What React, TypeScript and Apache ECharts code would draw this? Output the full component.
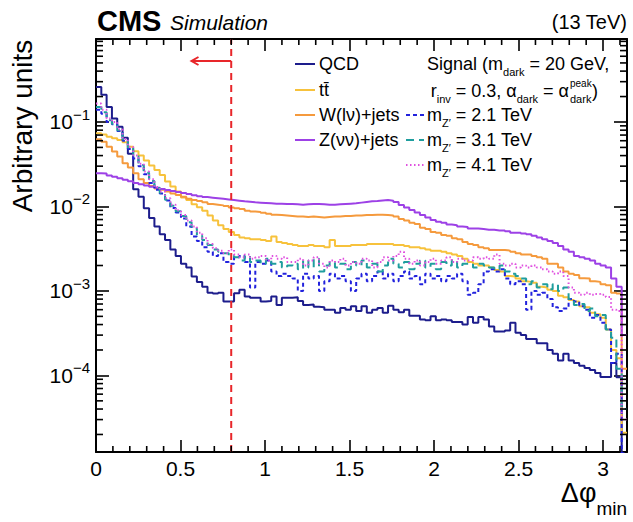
import React, { useEffect, useRef } from 'react';
import * as echarts from 'echarts';

const FONT = '"Liberation Sans", Arial, Helvetica, sans-serif';
const N_BINS = 100;
const X_MAX = Math.PI;
const Y_MIN = 1.24e-5;
const Y_MAX = 0.96;
const CUT = 0.8;
const ARROW_END = 0.565;
const ARROW_Y = 0.527;

const qcd = [
  0.26, 0.21, 0.15, 0.11, 0.088, 0.065, 0.042, 0.016, 0.013, 0.0095,
  0.0073, 0.0058, 0.0047, 0.004, 0.0031, 0.0026, 0.0021, 0.0019, 0.00148, 0.00128,
  0.00112, 0.00095, 0.00093, 0.00095, 0.00075, 0.00075, 0.00094, 0.00103, 0.00086, 0.00083,
  0.00083, 0.00075, 0.00076, 0.00086, 0.00068, 0.00083, 0.00083, 0.00084, 0.00076, 0.00068,
  0.00069, 0.00065, 0.00064, 0.0006, 0.0006, 0.00055, 0.00063, 0.0006, 0.00066, 0.00058,
  0.00066, 0.00055, 0.0006, 0.00063, 0.00055, 0.00067, 0.0006, 0.00056, 0.0006, 0.00051,
  0.00051, 0.00046, 0.00045, 0.0005, 0.00045, 0.00046, 0.00045, 0.00043, 0.00043, 0.0004,
  0.00049, 0.00042, 0.00049, 0.00046, 0.00038, 0.00033, 0.00033, 0.00034, 0.00042, 0.00032,
  0.0003, 0.00027, 0.00027, 0.00024, 0.00024, 0.0002, 0.00018, 0.00015, 0.00018, 0.00015,
  0.00014, 0.00013, 0.000122, 0.000116, 0.000107, 0.000096, 0.000096, 0.00014, 0.000095, 0.000001,
];

const ttbar = [
  0.0735, 0.071, 0.067, 0.064, 0.061, 0.0575, 0.051, 0.045, 0.04, 0.035,
  0.0305, 0.027, 0.0235, 0.0198, 0.0172, 0.015, 0.0128, 0.0119, 0.0106, 0.0098,
  0.0089, 0.0078, 0.0068, 0.006, 0.0054, 0.005, 0.0046, 0.0043, 0.0042, 0.0041,
  0.0041, 0.004, 0.0039, 0.0044, 0.0038, 0.0037, 0.0036, 0.0035, 0.0034, 0.0034,
  0.0035, 0.0034, 0.0034, 0.0033, 0.004, 0.0034, 0.0034, 0.0034, 0.0035, 0.0035,
  0.0035, 0.0036, 0.0036, 0.0036, 0.0036, 0.0036, 0.0035, 0.0035, 0.0034, 0.0033,
  0.0033, 0.0032, 0.0031, 0.003, 0.003, 0.0029, 0.0028, 0.0027, 0.0026, 0.0024,
  0.0022, 0.0021, 0.002, 0.002, 0.0019, 0.00177, 0.0017, 0.0015, 0.00148, 0.0014,
  0.0013, 0.00128, 0.00125, 0.00112, 0.0011, 0.00103, 0.001, 0.00088, 0.00084, 0.00078,
  0.00075, 0.00066, 0.00064, 0.00055, 0.00053, 0.00048, 0.00035, 0.0002, 0.00016, 0.000021,
];

const wjets = [
  0.0624, 0.0585, 0.051, 0.0446, 0.039, 0.0325, 0.029, 0.0247, 0.021, 0.019,
  0.0175, 0.0163, 0.0158, 0.015, 0.0142, 0.0137, 0.013, 0.0123, 0.0119, 0.0116,
  0.0112, 0.0107, 0.0105, 0.0103, 0.0101, 0.0097, 0.0095, 0.0093, 0.0089, 0.0087,
  0.0086, 0.0084, 0.0082, 0.008, 0.0079, 0.0078, 0.0077, 0.0076, 0.0076, 0.0075,
  0.0076, 0.0075, 0.0074, 0.0075, 0.0076, 0.0076, 0.0077, 0.0077, 0.0078, 0.0078,
  0.0079, 0.0079, 0.008, 0.008, 0.0079, 0.0078, 0.0076, 0.0071, 0.0068, 0.0064,
  0.0062, 0.0056, 0.0054, 0.005, 0.0049, 0.0046, 0.0045, 0.0042, 0.0041, 0.0038,
  0.0036, 0.0035, 0.0033, 0.0032, 0.00305, 0.00305, 0.00305, 0.003, 0.0029, 0.0028,
  0.0027, 0.0027, 0.0026, 0.0025, 0.0024, 0.0021, 0.0021, 0.0019, 0.0017, 0.0016,
  0.00154, 0.00141, 0.0014, 0.0013, 0.00128, 0.0012, 0.00117, 0.00095, 0.00093, 0.00012,
];

const zjets = [
  0.0247, 0.0245, 0.0232, 0.0225, 0.0215, 0.0207, 0.0199, 0.019, 0.0183, 0.0177,
  0.0171, 0.0166, 0.0161, 0.0157, 0.0152, 0.0148, 0.0144, 0.014, 0.0136, 0.0132,
  0.0129, 0.0127, 0.0125, 0.0123, 0.0121, 0.0119, 0.0117, 0.0115, 0.0114, 0.0112,
  0.0111, 0.011, 0.0109, 0.0108, 0.0108, 0.0107, 0.0107, 0.0106, 0.0105, 0.0106,
  0.0107, 0.0107, 0.0106, 0.0105, 0.0105, 0.0106, 0.0107, 0.0108, 0.0109, 0.0111,
  0.0113, 0.0115, 0.0116, 0.0118, 0.0119, 0.0117, 0.0113, 0.0104, 0.0097, 0.0091,
  0.0085, 0.0079, 0.0074, 0.0069, 0.0066, 0.0064, 0.0061, 0.006, 0.0058, 0.0057,
  0.0055, 0.0055, 0.0054, 0.0053, 0.0053, 0.0052, 0.0052, 0.0051, 0.0049, 0.0049,
  0.0048, 0.0047, 0.0045, 0.0043, 0.0041, 0.0039, 0.0037, 0.0034, 0.0031, 0.0029,
  0.0026, 0.0025, 0.0024, 0.0023, 0.0021, 0.002, 0.0019, 0.0014, 0.00112, 0.0003,
];

const sig21 = [
  0.14, 0.125, 0.1, 0.094, 0.078, 0.06, 0.048, 0.037, 0.03, 0.024,
  0.019, 0.0158, 0.0142, 0.0118, 0.0096, 0.0085, 0.0072, 0.0058, 0.0044, 0.0039,
  0.0033, 0.0029, 0.0026, 0.0028, 0.0022, 0.0021, 0.0025, 0.0026, 0.0022, 0.0011,
  0.0022, 0.0021, 0.0023, 0.0017, 0.0015, 0.0016, 0.0015, 0.0014, 0.001, 0.0016,
  0.0014, 0.0015, 0.001, 0.0013, 0.0016, 0.0014, 0.0015, 0.0013, 0.001, 0.0014,
  0.0016, 0.0013, 0.0015, 0.0017, 0.0014, 0.0016, 0.0013, 0.0015, 0.0017, 0.0014,
  0.0015, 0.0012, 0.0016, 0.0014, 0.0015, 0.0013, 0.0015, 0.0014, 0.0016, 0.0013,
  0.0009, 0.00095, 0.0012, 0.0017, 0.0018, 0.0017, 0.0018, 0.0014, 0.0012, 0.0013,
  0.0012, 0.0006, 0.001, 0.0009, 0.00095, 0.0008, 0.00064, 0.00058, 0.00062, 0.0008,
  0.00075, 0.00066, 0.0006, 0.00048, 0.00052, 0.00042, 0.00035, 0.00014, 0.00018, 0.000012,
];

const sig31 = [
  0.15, 0.13, 0.105, 0.095, 0.08, 0.062, 0.05, 0.04, 0.031, 0.025,
  0.02, 0.0165, 0.0145, 0.012, 0.0102, 0.0088, 0.0077, 0.0065, 0.0055, 0.0045,
  0.004, 0.0035, 0.0031, 0.0029, 0.0028, 0.0026, 0.0025, 0.0023, 0.0026, 0.0022,
  0.0023, 0.0021, 0.0024, 0.0021, 0.0022, 0.0019, 0.002, 0.0021, 0.0018, 0.0023,
  0.0019, 0.0024, 0.0017, 0.002, 0.0022, 0.0019, 0.0021, 0.0018, 0.0022, 0.002,
  0.0023, 0.0019, 0.0021, 0.0017, 0.002, 0.0024, 0.0021, 0.0019, 0.0022, 0.0018,
  0.0021, 0.0023, 0.0019, 0.0021, 0.0018, 0.0022, 0.002, 0.0023, 0.0019, 0.0021,
  0.0021, 0.0019, 0.0021, 0.002, 0.0019, 0.0018, 0.002, 0.0017, 0.0016, 0.0015,
  0.0014, 0.0012, 0.0013, 0.0011, 0.0012, 0.00105, 0.0012, 0.001, 0.0011, 0.0008,
  0.00068, 0.0007, 0.00058, 0.00062, 0.0005, 0.00052, 0.00035, 0.00028, 0.00012, 0.00004,
];

const sig41 = [
  0.165, 0.14, 0.11, 0.1, 0.082, 0.063, 0.051, 0.04, 0.032, 0.026,
  0.021, 0.017, 0.015, 0.0125, 0.0105, 0.009, 0.0079, 0.0068, 0.0058, 0.0049,
  0.0042, 0.0036, 0.0032, 0.003, 0.0028, 0.0031, 0.0027, 0.0025, 0.0027, 0.0024,
  0.0025, 0.0026, 0.0023, 0.0026, 0.0024, 0.0025, 0.0022, 0.0022, 0.0024, 0.002,
  0.0023, 0.0025, 0.0021, 0.0019, 0.0023, 0.0022, 0.0024, 0.002, 0.0022, 0.0021,
  0.0024, 0.0023, 0.0019, 0.0022, 0.0025, 0.0023, 0.0026, 0.0029, 0.0024, 0.0021,
  0.0023, 0.002, 0.0022, 0.0024, 0.0021, 0.0023, 0.0025, 0.0022, 0.0024, 0.0023,
  0.0023, 0.0025, 0.0024, 0.0025, 0.0024, 0.0027, 0.0021, 0.002, 0.0021, 0.0019,
  0.002, 0.0019, 0.002, 0.0019, 0.0018, 0.0017, 0.0016, 0.0017, 0.0015, 0.0011,
  0.00095, 0.0009, 0.00095, 0.0009, 0.00092, 0.0009, 0.00085, 0.0006, 0.00058, 0.00003,
];

const COLORS = {
  qcd: '#1d1d8c',
  ttbar: '#f7c23c',
  wjets: '#f59a3d',
  zjets: '#9d41e6',
  sig21: '#2222dd',
  sig31: '#1f9e9e',
  sig41: '#e050e0',
  cut: '#e8262a',
};

const DASH21 = [4, 3];
const DASH31 = [8, 5];
const DASH41 = [1.5, 2.5];
const LEG_FS = 18;
const TICK_W = 1.6;

function histData(values: number[]) {
  const pts: number[][] = values.map((v, k) => [(k * X_MAX) / N_BINS, v]);
  pts.push([X_MAX, values[values.length - 1]]);
  return pts;
}

function histSeries(name: string, values: number[], color: string, dash?: number[]) {
  return {
    name,
    type: 'line',
    step: 'end',
    xAxisIndex: 0,
    yAxisIndex: 0,
    showSymbol: false,
    symbol: 'none',
    clip: true,
    silent: true,
    data: histData(values),
    lineStyle: { color, width: 2, type: dash ? dash : 'solid' },
  };
}

function subStyle() {
  return { fontSize: 11, lineHeight: 14, verticalAlign: 'bottom', fontFamily: FONT, fill: '#000' };
}

function legendText(x: number, y: number, text: string, align = 'left') {
  return {
    type: 'text',
    x,
    y,
    silent: true,
    style: {
      text,
      fontFamily: FONT,
      fontSize: LEG_FS,
      lineHeight: 26,
      fill: '#000',
      align,
      verticalAlign: 'middle',
      rich: { sub: subStyle() },
    },
  };
}

function legendLine(x1: number, x2: number, y: number, color: string, dash?: number[]) {
  return {
    type: 'line',
    silent: true,
    shape: { x1, y1: y, x2, y2: y },
    style: { stroke: color, lineWidth: 2, lineDash: dash || null },
  };
}

function yLabel(v: number) {
  const l = Math.log10(v);
  const n = Math.round(l);
  if (Math.abs(l - n) > 1e-6) return '';
  if (n === 0) return '{b|1}';
  return '{b|10}{s|' + (n < 0 ? '\u2212' + -n : String(n)) + '}';
}

export default function App() {
  const ref = useRef<HTMLDivElement>(null);
  useEffect(() => {
    document.body.style.margin = '0';
    const chart = echarts.init(ref.current as HTMLDivElement, null, { renderer: 'svg' });

    const axisLine = { show: true, onZero: false, lineStyle: { color: '#000', width: 2 } };
    const majorTick = (len: number) => ({ show: true, inside: true, length: len, lineStyle: { color: '#000', width: TICK_W } });

    const option: any = {
      animation: false,
      backgroundColor: '#fff',
      grid: { left: 96, top: 39, width: 531, height: 413, show: false },
      xAxis: [
        {
          type: 'value',
          min: 0,
          max: X_MAX,
          interval: 0.5,
          position: 'bottom',
          axisLine,
          axisTick: majorTick(12),
          axisLabel: {
            color: '#000',
            fontFamily: FONT,
            fontSize: 21,
            margin: 6,
            showMaxLabel: false,
          },
          splitLine: { show: false },
        },
        {
          type: 'value',
          min: 0,
          max: X_MAX,
          interval: 0.5,
          position: 'top',
          axisLine,
          axisTick: majorTick(12),
          axisLabel: { show: false },
          splitLine: { show: false },
        },
      ],
      yAxis: [
        {
          type: 'log',
          logBase: 10,
          min: Y_MIN,
          max: Y_MAX,
          position: 'left',
          axisLine,
          axisTick: majorTick(13),
          axisLabel: {
            formatter: yLabel,
            margin: 6,
            showMinLabel: false,
            showMaxLabel: false,
            rich: {
              b: { fontSize: 21, lineHeight: 30, fontFamily: FONT, color: '#000' },
              s: { fontSize: 15, lineHeight: 15, verticalAlign: 'top', fontFamily: FONT, color: '#000' },
            },
          },
          splitLine: { show: false },
        },
        {
          type: 'log',
          logBase: 10,
          min: Y_MIN,
          max: Y_MAX,
          position: 'right',
          axisLine,
          axisTick: majorTick(13),
          axisLabel: { show: false },
          splitLine: { show: false },
        },
      ],
      series: [
        histSeries('QCD', qcd, COLORS.qcd),
        histSeries('ttbar', ttbar, COLORS.ttbar),
        histSeries('W(lv)+jets', wjets, COLORS.wjets),
        histSeries('Z(vv)+jets', zjets, COLORS.zjets),
        histSeries('mZ 2.1 TeV', sig21, COLORS.sig21, DASH21),
        histSeries('mZ 3.1 TeV', sig31, COLORS.sig31, DASH31),
        histSeries('mZ 4.1 TeV', sig41, COLORS.sig41, DASH41),
        {
          type: 'custom',
          name: 'cut',
          xAxisIndex: 0,
          yAxisIndex: 0,
          silent: true,
          clip: false,
          z: 11,
          data: [[CUT, ARROW_Y]],
          renderItem: (_params: any, api: any) => {
            const c = (x: number, y: number) => api.coord([x, y]);
            const yb = c(CUT, Y_MIN)[1];
            const yt = c(CUT, Y_MAX)[1];
            const a0 = c(CUT, ARROW_Y);
            const a1 = c(ARROW_END, ARROW_Y);
            return {
              type: 'group',
              children: [
                {
                  type: 'line',
                  shape: { x1: a0[0], y1: yb, x2: a0[0], y2: yt },
                  style: { stroke: COLORS.cut, lineWidth: 2, lineDash: [7, 5] },
                },
                {
                  type: 'line',
                  shape: { x1: a0[0], y1: a0[1], x2: a1[0], y2: a1[1] },
                  style: { stroke: COLORS.cut, lineWidth: 2 },
                },
                {
                  type: 'polyline',
                  shape: { points: [[a1[0] + 7, a1[1] - 4], [a1[0], a1[1]], [a1[0] + 7, a1[1] + 4]] },
                  style: { stroke: COLORS.cut, lineWidth: 2, fill: null },
                },
              ],
            };
          },
        },
      ],
    };

    chart.setOption(option);

    // minor ticks, placed through the chart's own scales
    const toPx = (x: number, y: number) => chart.convertToPixel({ seriesIndex: 0 } as any, [x, y]) as number[];
    const ticks: any[] = [];
    const tickStyle = () => ({ stroke: '#000', lineWidth: TICK_W });
    const leftX = toPx(0, 1e-3)[0];
    const rightX = toPx(X_MAX, 1e-3)[0];
    const botY = toPx(1, Y_MIN)[1];
    const topY = toPx(1, Y_MAX)[1];
    for (let n = -6; n <= 0; n++) {
      for (let m = 2; m <= 9; m++) {
        const v = m * Math.pow(10, n);
        if (v > Y_MIN && v < Y_MAX) {
          const py = toPx(0, v)[1];
          ticks.push({ type: 'line', silent: true, z: 20, shape: { x1: leftX, y1: py, x2: leftX + 7, y2: py }, style: tickStyle() });
          ticks.push({ type: 'line', silent: true, z: 20, shape: { x1: rightX - 7, y1: py, x2: rightX, y2: py }, style: tickStyle() });
        }
      }
    }
    for (let i = 1; i * 0.1 < X_MAX; i++) {
      if (i % 5 === 0) continue;
      const px = toPx(i / 10, 1e-3)[0];
      ticks.push({ type: 'line', silent: true, z: 20, shape: { x1: px, y1: botY, x2: px, y2: botY - 6 }, style: tickStyle() });
      ticks.push({ type: 'line', silent: true, z: 20, shape: { x1: px, y1: topY, x2: px, y2: topY + 6 }, style: tickStyle() });
    }

    const texts: any[] = [
      {
        type: 'text', x: 97, y: 21, silent: true,
        style: { text: 'CMS', fontFamily: FONT, fontSize: 29, fontWeight: 'bold', fill: '#000', align: 'left', verticalAlign: 'middle' },
      },
      {
        type: 'text', x: 170, y: 22, silent: true,
        style: { text: 'Simulation', fontFamily: FONT, fontSize: 21, fontStyle: 'italic', fill: '#000', align: 'left', verticalAlign: 'middle' },
      },
      {
        type: 'text', x: 627, y: 22, silent: true,
        style: { text: '(13 TeV)', fontFamily: FONT, fontSize: 20, fill: '#000', align: 'right', verticalAlign: 'middle' },
      },
      {
        type: 'text', x: 22, y: 126, rotation: Math.PI / 2, silent: true,
        style: { text: 'Arbitrary units', fontFamily: FONT, fontSize: 28, fill: '#000', align: 'center', verticalAlign: 'middle' },
      },
      {
        type: 'text', x: 627, y: 493, silent: true,
        style: {
          text: '\u0394\u03c6{sub|min}', fontFamily: FONT, fontSize: 27, lineHeight: 50, fill: '#000', align: 'right', verticalAlign: 'middle',
          rich: { sub: { fontSize: 19, lineHeight: 22, verticalAlign: 'bottom', fontFamily: FONT, fill: '#000' } },
        },
      },
      legendLine(295, 315, 64, COLORS.qcd),
      legendText(319, 64, 'QCD'),
      legendLine(295, 315, 90, COLORS.ttbar),
      legendText(319, 90, 'tt\u0304'),
      legendLine(295, 315, 115, COLORS.wjets),
      legendText(319, 115, 'W(l\u03bd)+jets'),
      legendLine(295, 315, 140, COLORS.zjets),
      legendText(319, 140, 'Z(\u03bd\u03bd)+jets'),
      legendText(427, 64, 'Signal (m{sub|dark} = 20 GeV,'),
      legendText(569, 91, 'r{sub|inv} = 0.3, \u03b1{sub|dark} = \u03b1', 'right'),
      {
        type: 'text', x: 570, y: 83, silent: true,
        style: { text: 'peak', fontFamily: FONT, fontSize: 10, fill: '#000', align: 'left', verticalAlign: 'middle' },
      },
      {
        type: 'text', x: 570, y: 99, silent: true,
        style: { text: 'dark', fontFamily: FONT, fontSize: 11, fill: '#000', align: 'left', verticalAlign: 'middle' },
      },
      legendText(592, 91, ')'),
      legendLine(406, 424, 115, COLORS.sig21, DASH21),
      legendText(427, 115, 'm{sub|Z\u2032} = 2.1 TeV'),
      legendLine(406, 424, 140, COLORS.sig31, DASH31),
      legendText(427, 140, 'm{sub|Z\u2032} = 3.1 TeV'),
      legendLine(406, 424, 165, COLORS.sig41, DASH41),
      legendText(427, 165, 'm{sub|Z\u2032} = 4.1 TeV'),
    ];

    chart.setOption({ graphic: texts.concat(ticks) });
    return () => chart.dispose();
  }, []);

  return <div ref={ref} style={{ width: 633, height: 522, background: '#fff' }} />;
}
